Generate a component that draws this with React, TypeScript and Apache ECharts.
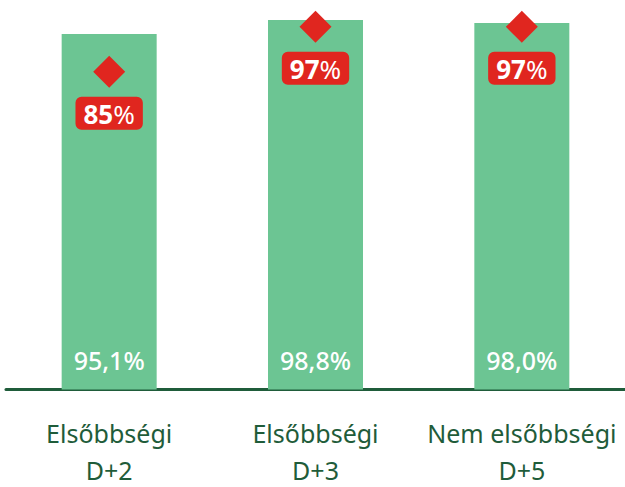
import React, { useEffect, useRef } from "react";
import * as echarts from "echarts";

const categoryNames = ["Elsőbbségi", "Elsőbbségi", "Nem elsőbbségi"];
const categoryTerms = ["D+2", "D+3", "D+5"];
const barValues = [95.1, 98.8, 98.0];
const targetValues = [85, 97, 97];

const categories = categoryNames.map((n, i) => `${n}\n${categoryTerms[i]}`);

const GREEN = "#6cc593";
const DARK = "#1f5c3a";
const RED = "#e0261f";
const FONT = "'Noto Sans', Lato, sans-serif";

export default function App() {
  const ref = useRef<HTMLDivElement>(null);
  useEffect(() => {
    if (!ref.current) return;
    const chart = echarts.init(ref.current, null, { renderer: "svg" });
    chart.setOption({
      animation: false,
      grid: {
        left: 6,
        right: 0,
        top: 15.6,
        bottom: 97.5,
        containLabel: false,
        outerBoundsMode: "none",
      },
      xAxis: {
        type: "category",
        data: categories,
        axisTick: { show: false },
        axisLine: { lineStyle: { color: DARK, width: 3 } },
        axisLabel: {
          interval: 0,
          margin: 19,
          formatter: (v: string) => {
            const [a, b] = v.split("\n");
            return `{a|${a}}\n{b|${b}}`;
          },
          rich: {
            a: {
              color: DARK,
              fontFamily: FONT,
              fontSize: 25,
              lineHeight: 48,
              verticalAlign: "middle",
            },
            b: {
              color: DARK,
              fontFamily: FONT,
              fontSize: 25,
              lineHeight: 26,
              verticalAlign: "middle",
            },
          },
        },
      },
      yAxis: { type: "value", min: 0, max: 100, show: false },
      series: [
        {
          type: "bar",
          data: barValues,
          barWidth: 95,
          itemStyle: { color: GREEN },
          label: {
            show: true,
            position: "insideBottom",
            distance: 17,
            color: "#ffffff",
            fontFamily: FONT,
            fontSize: 25,
            fontWeight: 500,
            formatter: (p: any) => p.value.toFixed(1).replace(".", ",") + "%",
          },
          z: 1,
        },
        {
          type: "scatter",
          data: targetValues,
          symbol: "diamond",
          symbolSize: 32,
          itemStyle: { color: RED, opacity: 1 },
          z: 3,
          label: {
            show: true,
            position: "bottom",
            distance: 9,
            backgroundColor: RED,
            borderRadius: 6,
            padding: [4, 8, 2, 8],
            formatter: (p: any) => `{n|${p.value}}{p|%}`,
            rich: {
              n: {
                color: "#ffffff",
                fontFamily: FONT,
                fontSize: 26,
                fontWeight: "bold",
                lineHeight: 27,
              },
              p: {
                color: "#ffffff",
                fontFamily: FONT,
                fontSize: 26,
                fontWeight: "normal",
                lineHeight: 27,
              },
            },
          },
        },
      ],
    });
    return () => chart.dispose();
  }, []);
  return (
    <div
      ref={ref}
      style={{ position: "absolute", left: 0, top: 0, width: 625, height: 487 }}
    />
  );
}
